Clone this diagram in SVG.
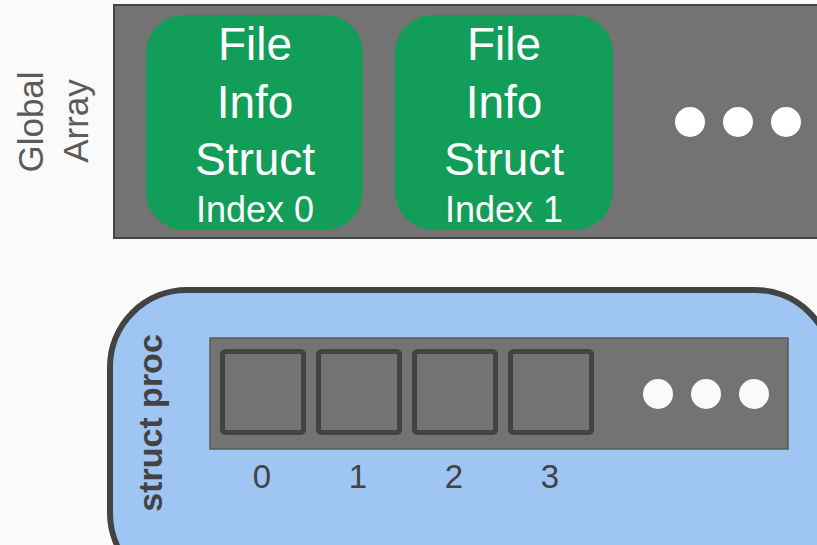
<svg xmlns="http://www.w3.org/2000/svg" width="817" height="545" viewBox="0 0 817 545">
  <style>
    .lbl { font-family: "Liberation Sans", Arial, sans-serif; }
    .white { fill: #ffffff; }
    .array { fill: #737373; stroke: #444444; stroke-width: 2; }
    .entry { fill: #129e58; }
    .slot { fill: #737373; stroke: #434343; stroke-width: 5; }
    .dot { fill: #fafafa; }
    .idx { fill: #434343; font-size: 33px; text-anchor: middle; }
  </style>
  <rect x="0" y="0" width="817" height="545" fill="#fafafa"/>

  <!-- Global array label -->
  <g id="global-array-label" class="lbl" fill="#5b5b5b" font-size="35" text-anchor="middle">
    <text transform="translate(43,122) rotate(-90)">Global</text>
    <text transform="translate(88,121) rotate(-90)">Array</text>
  </g>

  <!-- Global array -->
  <g id="global-array">
    <rect class="array" x="114" y="5" width="720" height="233"/>
  </g>

  <g id="file-info-0">
    <rect class="entry" x="146" y="15" width="217" height="215" rx="38" ry="38"/>
    <g class="lbl white" text-anchor="middle">
      <text x="255" y="60" font-size="46">File</text>
      <text x="255" y="118" font-size="46">Info</text>
      <text x="255" y="175" font-size="46">Struct</text>
      <text x="255" y="222" font-size="36">Index 0</text>
    </g>
  </g>

  <g id="file-info-1">
    <rect class="entry" x="395" y="15" width="218" height="215" rx="38" ry="38"/>
    <g class="lbl white" text-anchor="middle">
      <text x="504" y="60" font-size="46">File</text>
      <text x="504" y="118" font-size="46">Info</text>
      <text x="504" y="175" font-size="46">Struct</text>
      <text x="504" y="222" font-size="36">Index 1</text>
    </g>
  </g>

  <g id="global-array-more">
    <circle cx="690" cy="122" r="15" fill="#ffffff"/>
    <circle cx="738" cy="122" r="15" fill="#ffffff"/>
    <circle cx="786" cy="122" r="15" fill="#ffffff"/>
  </g>

  <!-- struct proc -->
  <g id="struct-proc">
    <rect x="110" y="290" width="722" height="300" rx="77" ry="77" fill="#9fc5f2" stroke="#434343" stroke-width="6"/>
    <text class="lbl" transform="translate(162,423) rotate(-90)" font-size="34" font-weight="bold" fill="#434343" text-anchor="middle">struct proc</text>
  </g>

  <g id="proc-array">
    <rect x="210" y="338" width="578" height="111" fill="#737373" stroke="#595959" stroke-width="1.5"/>
  </g>

  <g id="slot-0">
    <rect class="slot" x="222.5" y="351.5" width="81" height="81" rx="3"/>
    <text class="lbl idx" x="262" y="488">0</text>
  </g>
  <g id="slot-1">
    <rect class="slot" x="318.5" y="351.5" width="81" height="81" rx="3"/>
    <text class="lbl idx" x="358" y="488">1</text>
  </g>
  <g id="slot-2">
    <rect class="slot" x="414.5" y="351.5" width="81" height="81" rx="3"/>
    <text class="lbl idx" x="454" y="488">2</text>
  </g>
  <g id="slot-3">
    <rect class="slot" x="510.5" y="351.5" width="81" height="81" rx="3"/>
    <text class="lbl idx" x="550" y="488">3</text>
  </g>

  <g id="proc-array-more">
    <circle class="dot" cx="658" cy="394" r="15"/>
    <circle class="dot" cx="706" cy="394" r="15"/>
    <circle class="dot" cx="754" cy="394" r="15"/>
  </g>

  <!-- no connectors are drawn -->
  <g id="connectors"/>
</svg>
